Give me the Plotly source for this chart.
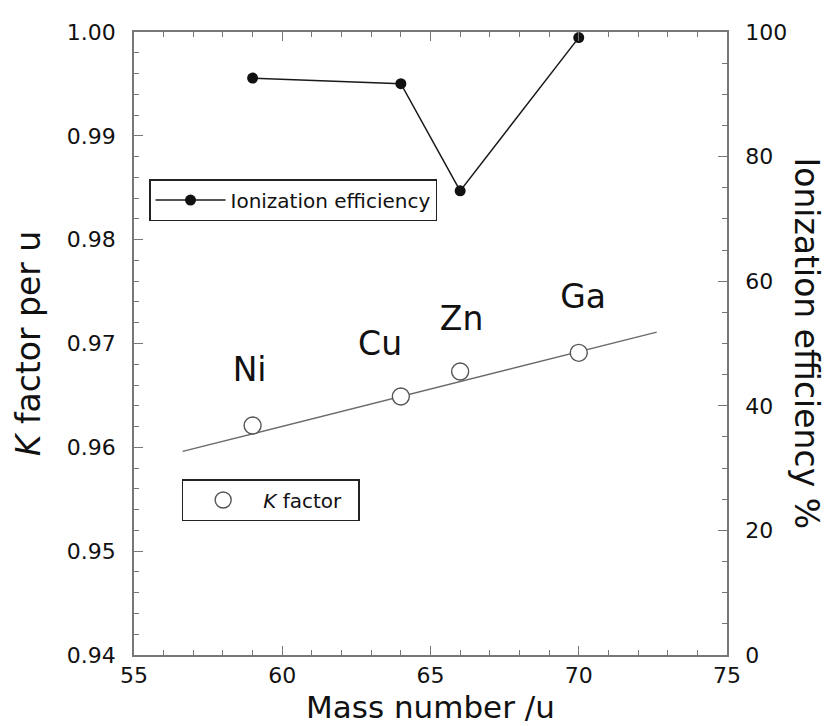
import plotly.graph_objects as go

# ---- data ----
mass_ion = [59, 64, 66, 70]
ion_eff = [92.6, 91.7, 74.5, 99.1]

mass_k = [59, 64, 66, 70]
k_factor = [0.9621, 0.9649, 0.9673, 0.9691]

fit_x = [56.64, 72.63]
fit_k = [0.9596, 0.9711]

elements = ["Ni", "Cu", "Zn", "Ga"]
label_x = [58.9, 63.3, 66.05, 70.15]
label_k = [0.9672, 0.9697, 0.9721, 0.9742]

FONT = "DejaVu Sans, Liberation Sans, Arial, sans-serif"
AX = "#777777"
TXT = "#111111"

fig = go.Figure()

fig.add_trace(go.Scatter(
    x=fit_x, y=fit_k, mode="lines",
    line=dict(color="#6a6a6a", width=1.3),
    showlegend=False, hoverinfo="skip", yaxis="y"))

fig.add_trace(go.Scatter(
    x=mass_k, y=k_factor, mode="markers", name="<i>K</i> factor",
    marker=dict(symbol="circle", size=17, color="white",
                line=dict(color="#555555", width=1.4)),
    legend="legend2", yaxis="y"))

fig.add_trace(go.Scatter(
    x=label_x, y=label_k, mode="text", text=elements,
    textfont=dict(family=FONT, size=33, color=TXT),
    showlegend=False, hoverinfo="skip", yaxis="y"))

fig.add_trace(go.Scatter(
    x=mass_ion, y=ion_eff, mode="lines+markers", name="Ionization efficiency",
    line=dict(color="#1a1a1a", width=1.5),
    marker=dict(symbol="circle", size=11, color="#111111"),
    legend="legend", yaxis="y2"))

axis_common = dict(
    showline=True, linecolor=AX, linewidth=1.5,
    ticks="inside", ticklen=9, tickwidth=1.3, tickcolor=AX,
    showgrid=False, zeroline=False,
    tickfont=dict(family=FONT, size=22, color=TXT),
)

legend_common = dict(
    xanchor="left", yanchor="top", orientation="h",
    bordercolor="#222222", borderwidth=1.5, bgcolor="white",
    itemwidth=70,
    font=dict(family=FONT, size=20, color=TXT))

fig.update_layout(
    width=828, height=726,
    margin=dict(l=134, r=101, t=32, b=71),
    paper_bgcolor="white", plot_bgcolor="white",
    font=dict(family=FONT, color=TXT),
    xaxis=dict(
        range=[55, 75], dtick=5, tick0=55, mirror="ticks",
        minor=dict(dtick=1, ticklen=5, ticks="inside", tickcolor=AX, tickwidth=1.2),
        ticklabelstandoff=0,
        **axis_common),
    yaxis=dict(
        range=[0.94, 1.00], dtick=0.01, tick0=0.94, tickformat=".2f",
        minor=dict(dtick=0.002, ticklen=5, ticks="inside", tickcolor=AX, tickwidth=1.2),
        title=dict(text="<i>K</i> factor per u", font=dict(family=FONT, size=33, color=TXT), standoff=16),
        ticklabelstandoff=12,
        **axis_common),
    yaxis2=dict(
        range=[0, 100], dtick=20, tick0=0, overlaying="y", side="right",
        minor=dict(dtick=5, ticklen=5, ticks="inside", tickcolor=AX, tickwidth=1.2),
        ticklabelstandoff=12,
        **axis_common),
    legend=dict(x=0.0253, y=0.764, entrywidth=200, **legend_common),
    legend2=dict(x=0.0804, y=0.2825, entrywidth=90, **legend_common),
    annotations=[
        dict(text="Ionization efficiency %", textangle=90,
             xref="paper", yref="paper", x=1.1349, y=0.5,
             xanchor="center", yanchor="middle", showarrow=False,
             font=dict(family=FONT, size=33, color=TXT)),
        dict(text="Mass number /u",
             xref="paper", yref="paper", x=0.5, y=-0.1156,
             xanchor="center", yanchor="bottom", showarrow=False,
             font=dict(family=FONT, size=31, color=TXT)),
    ],
)

fig.write_html("out.html", config={"displayModeBar": False},
               post_script="document.body.style.margin='0px';")
